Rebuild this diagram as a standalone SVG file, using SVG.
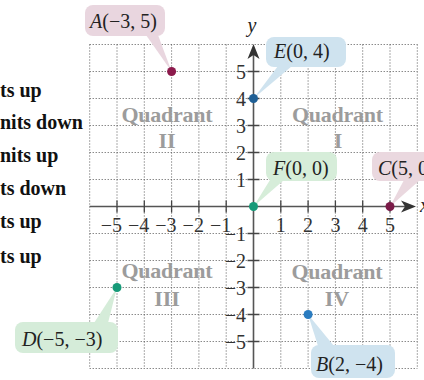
<svg xmlns="http://www.w3.org/2000/svg" width="424" height="380" viewBox="0 0 424 380">
<style>
.side{font-family:"Liberation Serif",serif;font-weight:bold;font-size:20px;fill:#111}
.grid{stroke:#555;stroke-width:1;stroke-dasharray:1 2;fill:none}
.axis{stroke:#555;stroke-width:1.6;fill:none}
.tick{stroke:#444;stroke-width:1.3}
.num{font-family:"Liberation Serif",serif;font-size:20px;fill:#333}
.quad{font-family:"Liberation Serif",serif;font-weight:bold;font-size:22px;fill:#9c9c9c}
.lab{font-family:"Liberation Serif",serif;font-size:20px;fill:#222}
.it{font-style:italic}
</style>
<rect width="424" height="380" fill="#fff"/>
<g id="side-text">
<text class="side" x="0" y="97">ts up</text>
<text class="side" x="0" y="129">nits down</text>
<text class="side" x="0" y="162">nits up</text>
<text class="side" x="0" y="195">ts down</text>
<text class="side" x="0" y="228">ts up</text>
<text class="side" x="0" y="263">ts up</text>
</g>
<g id="grid">
<path class="grid" d="M89.7 44.5V368.5M117 44.5V368.5M144.3 44.5V368.5M171.6 44.5V368.5M198.9 44.5V368.5M226.2 44.5V368.5M280.8 44.5V368.5M308.1 44.5V368.5M335.4 44.5V368.5M362.7 44.5V368.5M390 44.5V368.5M417.3 44.5V368.5M89.7 44.5H417.3M89.7 71.5H417.3M89.7 98.5H417.3M89.7 125.5H417.3M89.7 152.5H417.3M89.7 179.5H417.3M89.7 233.5H417.3M89.7 260.5H417.3M89.7 287.5H417.3M89.7 314.5H417.3M89.7 341.5H417.3M89.7 368.5H417.3"/>
</g>
<g id="quadrants">
<text class="quad" x="167" y="122" text-anchor="middle" textLength="91">Quadrant</text>
<text class="quad" x="167" y="148" text-anchor="middle">II</text>
<text class="quad" x="337.5" y="122" text-anchor="middle" textLength="91">Quadrant</text>
<text class="quad" x="338" y="148" text-anchor="middle">I</text>
<text class="quad" x="167" y="278" text-anchor="middle" textLength="91">Quadrant</text>
<text class="quad" x="167" y="306" text-anchor="middle">III</text>
<text class="quad" x="337" y="279" text-anchor="middle" textLength="91">Quadrant</text>
<text class="quad" x="337" y="306" text-anchor="middle">IV</text>
</g>
<g id="axes">
<line class="axis" x1="89.7" y1="206.5" x2="406" y2="206.5"/>
<polygon points="416,206.5 401,200.5 405,206.5 401,212.5" fill="#333"/>
<line class="axis" x1="253.5" y1="368.5" x2="253.5" y2="55"/>
<polygon points="253.5,44 247.5,59 253.5,55 259.5,59" fill="#333"/>
<path class="tick" d="M117 200.5v12M144.3 200.5v12M171.6 200.5v12M198.9 200.5v12M226.2 200.5v12M280.8 200.5v12M308.1 200.5v12M335.4 200.5v12M362.7 200.5v12M390 200.5v12M247.5 71.5h12M247.5 98.5h12M247.5 125.5h12M247.5 152.5h12M247.5 179.5h12M247.5 233.5h12M247.5 260.5h12M247.5 287.5h12M247.5 314.5h12M247.5 341.5h12"/>
<text class="lab it" x="252" y="32" text-anchor="middle">y</text>
<text class="lab it" x="420" y="212">x</text>
<g class="num" text-anchor="end">
<text x="122" y="232">−5</text>
<text x="149.3" y="232">−4</text>
<text x="176.6" y="232">−3</text>
<text x="203.9" y="232">−2</text>
<text x="231.2" y="232">−1</text>
<text x="246" y="79">5</text>
<text x="246" y="106">4</text>
<text x="246" y="133">3</text>
<text x="246" y="160">2</text>
<text x="246" y="187">1</text>
<text x="246" y="241">−1</text>
<text x="246" y="268">−2</text>
<text x="246" y="295">−3</text>
<text x="246" y="322">−4</text>
<text x="246" y="349">−5</text>
</g>
<g class="num" text-anchor="middle">
<text x="280.8" y="232">1</text>
<text x="308.1" y="232">2</text>
<text x="335.4" y="232">3</text>
<text x="362.7" y="232">4</text>
<text x="390" y="232">5</text>
</g>
</g>
<g id="connectors">
<polygon points="146,35 158,35 171.6,71.5" fill="#e9d6df"/>
<polygon points="278,66 292,66 253.5,98.5" fill="#cfe3ef"/>
<polygon points="270,180 284,180 253.5,206.5" fill="#d6edd9"/>
<polygon points="404,180 420,180 390,206.5" fill="#ead8df"/>
<polygon points="94,323 108,323 117,287.5" fill="#d5ecd9"/>
<polygon points="318,346 334,346 308.1,314.5" fill="#cfe3ef"/>
</g>
<g id="A">
<rect x="85" y="5" width="80" height="31" rx="8" fill="#e9d6df"/>
<text class="lab" x="90" y="28"><tspan class="it">A</tspan>(−3, 5)</text>
<circle cx="171.6" cy="71.5" r="4.5" fill="#8c1a4c"/>
</g>
<g id="E">
<rect x="266" y="37" width="80" height="30" rx="8" fill="#cfe3ef"/>
<text class="lab" x="274" y="58"><tspan class="it">E</tspan>(0, 4)</text>
<circle cx="253.5" cy="98.5" r="4.5" fill="#1f5f95"/>
</g>
<g id="F">
<rect x="266" y="152" width="71" height="29" rx="8" fill="#d6edd9"/>
<text class="lab" x="273" y="175"><tspan class="it">F</tspan>(0, 0)</text>
<circle cx="253.5" cy="206.5" r="4.5" fill="#169a78"/>
</g>
<g id="C">
<rect x="372" y="152" width="80" height="29" rx="8" fill="#ead8df"/>
<text class="lab" x="378" y="175"><tspan class="it">C</tspan>(5, 0)</text>
<circle cx="390" cy="206.5" r="4.5" fill="#7a1a48"/>
</g>
<g id="D">
<rect x="15" y="322" width="103" height="31" rx="8" fill="#d5ecd9"/>
<text class="lab" x="22" y="346"><tspan class="it">D</tspan>(−5, −3)</text>
<circle cx="117" cy="287.5" r="4.5" fill="#169a78"/>
</g>
<g id="B">
<rect x="311" y="345" width="84" height="33" rx="8" fill="#cfe3ef"/>
<text class="lab" x="316" y="371"><tspan class="it">B</tspan>(2, −4)</text>
<circle cx="308.1" cy="314.5" r="4.5" fill="#2a7cc0"/>
</g>
</svg>
